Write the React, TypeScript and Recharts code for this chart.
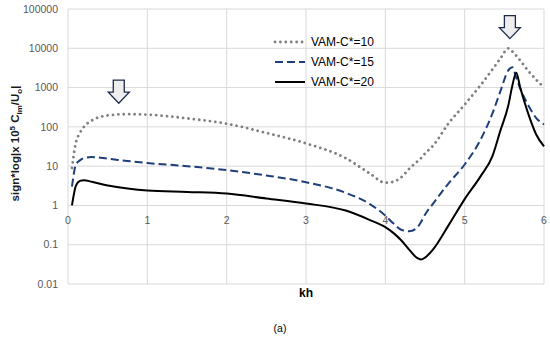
import React from 'react';
import { LineChart, Line, XAxis, YAxis, Legend, ReferenceDot, ReferenceLine, Label } from 'recharts';

const khValues = [0.05, 0.1, 0.15, 0.2, 0.3, 0.5, 0.75, 1, 1.5, 2, 2.5, 3, 3.5, 3.8, 4, 4.1, 4.2, 4.3, 4.4, 4.45, 4.5, 4.6, 4.8, 5, 5.2, 5.35, 5.45, 5.55, 5.6, 5.65, 5.7, 5.8, 5.9, 6];
const vam10 = [9, 40, 70, 100, 145, 195, 210, 205, 165, 120, 70, 38, 16, 6.6, 3.8, 4.0, 5.2, 8.5, 13, 16, 21, 33, 125, 370, 1150, 2900, 5500, 10000, 8300, 6500, 4900, 2700, 1600, 1000];
const vam15 = [3, 11, 14, 16, 17, 15.5, 13.5, 12, 10, 7.9, 5.8, 3.9, 2.1, 1.1, 0.55, 0.35, 0.24, 0.22, 0.27, 0.38, 0.58, 1.1, 3.7, 11, 47, 220, 800, 2750, 3300, 1800, 950, 360, 170, 115];
const vam20 = [1, 3.2, 4.2, 4.4, 4, 3.2, 2.7, 2.4, 2.2, 2.0, 1.5, 1.12, 0.74, 0.43, 0.28, 0.2, 0.13, 0.075, 0.046, 0.042, 0.047, 0.075, 0.32, 1.45, 5.5, 18, 80, 350, 1100, 2400, 1000, 220, 65, 32];

const xTicks = [0, 1, 2, 3, 4, 5, 6];
const yTicks = [0.01, 0.1, 1, 10, 100, 1000, 10000, 100000];
const seriesNames = ['VAM-C*=10', 'VAM-C*=15', 'VAM-C*=20'];
const arrows = [
  { kh: 0.64, value: 400 },
  { kh: 5.57, value: 17600 },
];

const data = khValues.map((k, i) => ({ kh: k, a: vam10[i], b: vam15[i], c: vam20[i] }));

const FONT = '"Liberation Sans", Arial, sans-serif';
const GRID = '#d9d9d9';

const styles = [
  { key: 'a', color: '#7f7f7f', width: 2.8, dash: '0.01 5.4', cap: 'round' as const },
  { key: 'b', color: '#1f3f7a', width: 2, dash: '8 4', cap: 'butt' as const },
  { key: 'c', color: '#000000', width: 2, dash: undefined, cap: 'butt' as const },
];

const ArrowShape = (props: any) => {
  const { cx, cy } = props;
  if (cx == null || cy == null) return null;
  const h = 23, hh = 11, sw = 5.5, hw = 10.5;
  const d = `M ${cx} ${cy} L ${cx - hw} ${cy - hh} L ${cx - sw} ${cy - hh} L ${cx - sw} ${cy - h} L ${cx + sw} ${cy - h} L ${cx + sw} ${cy - hh} L ${cx + hw} ${cy - hh} Z`;
  return <path d={d} fill="#eeeeee" stroke="#1f2b4a" strokeWidth={1.3} strokeLinejoin="miter" />;
};

const XTickShape = (label: string) => (props: any) => {
  const { cx, cy } = props;
  if (cx == null || cy == null) return null;
  return (
    <text x={cx} y={cy + 19} textAnchor="middle" fontFamily={FONT} fontSize={10.5} fill="#595959">
      {label}
    </text>
  );
};

const YLabel = (props: any) => {
  const vb = props.viewBox || {};
  const x = 19;
  const y = (vb.y ?? 0) + (vb.height ?? 0) / 2 - 3;
  return (
    <text
      x={x}
      y={y}
      transform={`rotate(-90 ${x} ${y})`}
      textAnchor="middle"
      fontFamily={FONT}
      fontSize={11.5}
      fontWeight="bold"
      fill="#1a1a1a"
    >
      <tspan>sign*log|x 10</tspan>
      <tspan fontSize={8} dy={-4}>5</tspan>
      <tspan dy={4}> C</tspan>
      <tspan fontSize={8} dy={3}>im</tspan>
      <tspan dy={-3}>/U</tspan>
      <tspan fontSize={8} dy={3}>o</tspan>
      <tspan dy={-3}>|</tspan>
    </text>
  );
};

const LegendContent = () => (
  <div style={{ fontFamily: FONT, fontSize: 12, color: '#000' }}>
    {styles.map((s, i) => (
      <div key={s.key} style={{ display: 'flex', alignItems: 'center', height: 20 }}>
        <svg width={34} height={10} style={{ marginRight: 4 }}>
          <line x1={2} y1={5} x2={32} y2={5} stroke={s.color} strokeWidth={s.width} strokeDasharray={s.dash} strokeLinecap={s.cap} />
        </svg>
        <span>{seriesNames[i]}</span>
      </div>
    ))}
  </div>
);

export default function App() {
  return (
    <div style={{ position: 'absolute', left: 0, top: 0, width: 550, height: 337, background: '#fff' }}>
      <LineChart width={550} height={337} data={data} margin={{ top: 9, right: 6, bottom: 33, left: 0 }}>
        <XAxis
          dataKey="kh"
          type="number"
          domain={[0, 6]}
          ticks={xTicks}
          tick={false}
          axisLine={false}
          tickLine={false}
          height={20}
        />
        <YAxis
          type="number"
          scale="log"
          domain={[0.01, 100000]}
          ticks={yTicks}
          allowDataOverflow
          axisLine={false}
          tickLine={false}
          tickSize={0}
          tickMargin={10}
          width={68}
          tick={{ fontFamily: FONT, fontSize: 10.5, fill: '#595959' }}
          tickFormatter={(v: number) => String(v)}
        >
          <Label content={<YLabel />} />
        </YAxis>
        {yTicks.map((t) => (
          <ReferenceLine key={`gy${t}`} y={t} stroke={GRID} strokeWidth={1} ifOverflow="visible" />
        ))}
        {xTicks.map((t) => (
          <ReferenceLine key={`gx${t}`} x={t} stroke={GRID} strokeWidth={1} ifOverflow="visible" />
        ))}
        <Legend
          verticalAlign="middle"
          align="center"
          layout="horizontal"
          content={<LegendContent />}
          wrapperStyle={{ position: 'absolute', left: 273, top: 32, width: 130 }}
        />
        {styles.map((s, i) => (
          <Line
            key={s.key}
            dataKey={s.key}
            name={seriesNames[i]}
            type="monotone"
            stroke={s.color}
            strokeWidth={s.width}
            strokeDasharray={s.dash}
            strokeLinecap={s.cap}
            dot={false}
            activeDot={false}
            isAnimationActive={false}
          />
        ))}
        {xTicks.map((t) => (
          <ReferenceDot key={`xt${t}`} x={t} y={1} r={0} shape={XTickShape(String(t))} ifOverflow="visible" />
        ))}
        {arrows.map((a, i) => (
          <ReferenceDot key={`ar${i}`} x={a.kh} y={a.value} r={1} shape={ArrowShape} ifOverflow="visible" />
        ))}
      </LineChart>
      <div style={{ position: 'absolute', left: 0, width: 550, top: 286, textAlign: 'center', paddingLeft: 62, boxSizing: 'border-box', fontFamily: FONT, fontSize: 12, fontWeight: 'bold', color: '#000' }}>
        kh
      </div>
      <div style={{ position: 'absolute', left: 0, width: 560, top: 322, textAlign: 'center', fontFamily: FONT, fontSize: 10.5, color: '#000' }}>
        (a)
      </div>
    </div>
  );
}
